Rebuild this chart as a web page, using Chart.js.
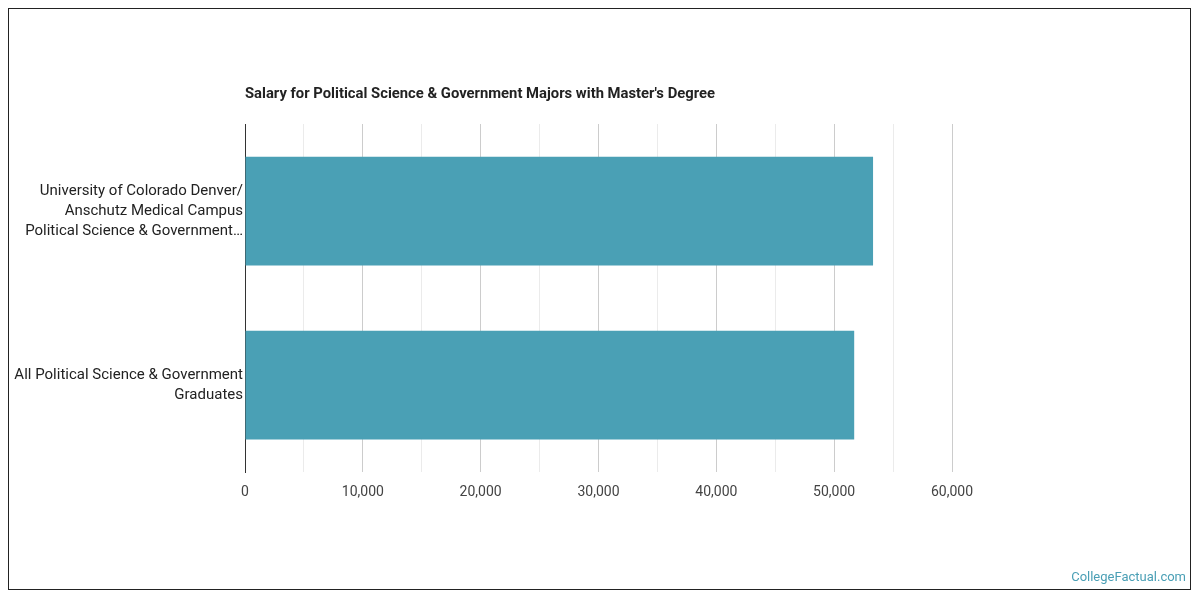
<!DOCTYPE html>
<html><head><meta charset="utf-8">
<script src="https://cdn.jsdelivr.net/npm/chart.js@4"></script>
<style>html,body{margin:0;padding:0;background:#fff}</style>
</head><body>
<div style="width:1200px;height:600px"><canvas id="c"></canvas></div>
<script>
const categories = [
  ["University of Colorado Denver/", "Anschutz Medical Campus", "Political Science & Government…"],
  ["All Political Science & Government", "Graduates"]
];
const salaries = [53300, 51700];
const chartTitle = "Salary for Political Science & Government Majors with Master's Degree";
const watermark = "CollegeFactual.com";

const deco = {
  id: 'deco',
  afterDraw(chart) {
    const ctx = chart.ctx;
    ctx.save();
    ctx.strokeStyle = '#222'; ctx.lineWidth = 1;
    ctx.strokeRect(8.5, 8.5, 1182, 581);
    ctx.fillStyle = '#222';
    ctx.font = 'bold 14.8px Roboto';
    ctx.textBaseline = 'middle'; ctx.textAlign = 'left';
    ctx.fillText(chartTitle, chart.chartArea.left, 94);
    ctx.fillStyle = '#4a9fb5';
    ctx.font = '13px Roboto';
    ctx.textAlign = 'right';
    ctx.fillText(watermark, 1186, 578);
    ctx.restore();
  }
};

new Chart(document.getElementById('c'), {
  type: 'bar',
  data: { labels: categories, datasets: [{ data: salaries, backgroundColor: '#4aa0b5', barPercentage: 0.625, categoryPercentage: 1 }] },
  options: {
    indexAxis: 'y', responsive: true, maintainAspectRatio: false, animation: false,
    layout: { padding: { left: 8, right: 248, top: 124, bottom: 98 } },
    plugins: { legend: { display: false }, tooltip: { enabled: false } },
    scales: {
      x: {
        min: 0, max: 60000,
        ticks: { stepSize: 5000, color: '#444', padding: 12, font: { family: 'Roboto', size: 14 },
          callback: v => v % 10000 === 0 ? v.toLocaleString('en-US') : '' },
        grid: { color: c => c.tick && c.tick.value % 10000 === 0 ? '#cccccc' : '#ebebeb', drawTicks: false },
        border: { display: false },
        afterFit: s => { s.height = 30; }
      },
      y: {
        ticks: { color: '#222', font: { family: 'Roboto', size: 15, lineHeight: 1.35 }, padding: 2 },
        grid: { display: false, tickLength: 0 },
        border: { display: true, color: '#333' },
        afterFit: s => { s.width = 237; }
      }
    }
  },
  plugins: [deco]
});
</script>
</body></html>
